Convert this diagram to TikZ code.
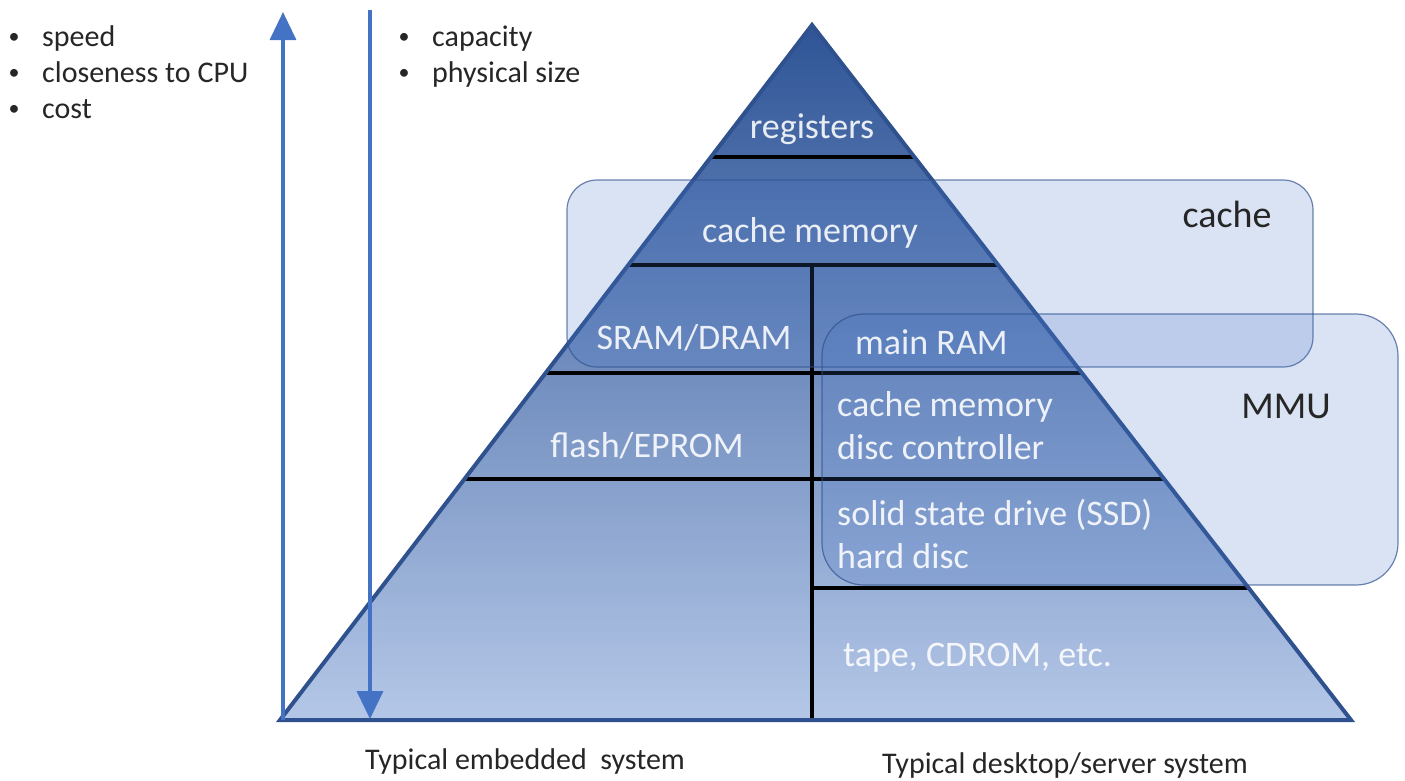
\documentclass[tikz,border=0pt]{standalone}
\usepackage{fontspec}
\setmainfont{Carlito}
\usetikzlibrary{arrows.meta}
\definecolor{pyrtop}{HTML}{2F5597}
\definecolor{pyrbot}{HTML}{B4C7E7}
\definecolor{pyredge}{HTML}{2F528F}
\definecolor{accent}{HTML}{4472C4}
\definecolor{ink}{HTML}{262626}
\begin{document}
\begin{tikzpicture}[x=1pt,y=-1pt,
  lbl/.style={inner sep=0pt, text=white, text opacity=0.88},
  note/.style={inner sep=0pt, text=ink},
  divider/.style={draw=black, line width=3.3pt},
  region/.style={draw=pyredge, draw opacity=0.7, line width=1.2pt, fill=accent, fill opacity=0.2, rounded corners=#1},
  axis/.style={draw=accent, line width=3.5pt, -{Triangle[length=28pt,width=26pt]}}
]
\useasboundingbox (0,0) rectangle (1405,780);

% pyramid corners
\coordinate (apex) at (812,25);
\coordinate (bl) at (280,720);
\coordinate (br) at (1351,720);

% gradient body
\shade[top color=pyrtop, bottom color=pyrbot] (apex) -- (br) -- (bl) -- cycle;

% level dividers, clipped to the pyramid
\begin{scope}
  \clip (apex) -- (br) -- (bl) -- cycle;
  \coordinate (d1l) at (600,157);  \coordinate (d1r) at (1000,157);
  \coordinate (d2l) at (500,265);  \coordinate (d2r) at (1100,265);
  \coordinate (d3l) at (400,373);  \coordinate (d3r) at (1200,373);
  \coordinate (d4l) at (400,479);  \coordinate (d4r) at (1250,479);
  \coordinate (d5l) at (812,588);  \coordinate (d5r) at (1300,588);
  \coordinate (vt) at (812,265);   \coordinate (vb) at (812,720);
  \draw[divider] (d1l) -- (d1r);
  \draw[divider] (d2l) -- (d2r);
  \draw[divider] (d3l) -- (d3r);
  \draw[divider] (d4l) -- (d4r);
  \draw[divider] (d5l) -- (d5r);
  \draw[divider] (vt) -- (vb);
\end{scope}

% pyramid outline
\draw[pyredge, line width=4pt, line join=miter] (apex) -- (br) -- (bl) -- cycle;

% translucent groupings
\path[region=30pt] (567,180) rectangle (1313,367);
\path[region=42pt] (822,314) rectangle (1398,585);

% arrows
\coordinate (upfrom) at (283,720);
\coordinate (upto) at (283,12);
\coordinate (dnfrom) at (370,10);
\coordinate (dnto) at (370,719);
\draw[axis] (upfrom) -- (upto);
\draw[axis] (dnfrom) -- (dnto);

% level labels
\node[lbl, anchor=base, font=\fontsize{36}{40}\selectfont] (reg) at (812,138) {registers};
\node[lbl, anchor=base, font=\fontsize{36}{40}\selectfont] (cm1) at (810,242) {cache memory};
\node[lbl, anchor=base, font=\fontsize{36}{40}\selectfont] (sram) at (694,349) {SRAM/DRAM};
\node[lbl, anchor=base, font=\fontsize{36}{40}\selectfont] (flash) at (647,457) {flash/EPROM};
\node[lbl, anchor=base west, font=\fontsize{36}{40}\selectfont] (mram) at (855,354) {main RAM};
\node[lbl, anchor=base west, font=\fontsize{36}{40}\selectfont] (cm2) at (837,416) {cache memory};
\node[lbl, anchor=base west, font=\fontsize{36}{40}\selectfont] (dctl) at (837,459) {disc controller};
\node[lbl, anchor=base west, font=\fontsize{36}{40}\selectfont] (ssd) at (837,525) {solid state drive (SSD)};
\node[lbl, anchor=base west, font=\fontsize{36}{40}\selectfont] (hdd) at (837,568) {hard disc};
\node[lbl, anchor=base west, font=\fontsize{36}{40}\selectfont] (tape) at (843,666) {tape, CDROM, etc.};

% group labels
\node[note, anchor=base, font=\fontsize{38}{42}\selectfont] (cachel) at (1227,227) {cache};
\node[note, anchor=base, font=\fontsize{38}{42}\selectfont] (mmul) at (1286,418) {MMU};

% property lists
\begin{scope}[every node/.style={note, anchor=base west, font=\fontsize{30}{34}\selectfont}]
  \node (t1) at (42,46) {speed};
  \node (t2) at (42,82) {closeness to CPU};
  \node (t3) at (42,118) {cost};
  \node (t4) at (432,46) {capacity};
  \node (t5) at (432,82) {physical size};
\end{scope}
\begin{scope}[every node/.style={note, anchor=base, font=\fontsize{22}{26}\selectfont}]
  \node (b1) at (14,43) {•};
  \node (b2) at (14,79) {•};
  \node (b3) at (14,115) {•};
  \node (b4) at (404,43) {•};
  \node (b5) at (404,79) {•};
\end{scope}

% system captions
\node[note, anchor=base, font=\fontsize{30}{34}\selectfont] (emb) at (525,769) {Typical embedded\ \ system};
\node[note, anchor=base, font=\fontsize{30}{34}\selectfont] (desk) at (1065,773) {Typical desktop/server system};
\end{tikzpicture}
\end{document}
